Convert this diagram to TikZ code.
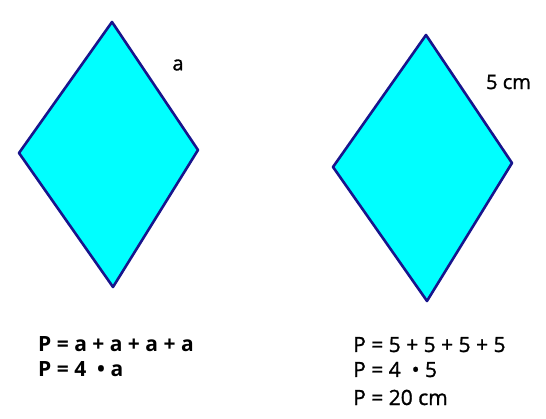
\documentclass[tikz,border=0pt]{standalone}
\usepackage{fontspec}
\setmainfont{Open Sans}
\newfontfamily\medfont{Open Sans}[FakeBold=1.2]
\definecolor{rhombfill}{RGB}{0,255,255}
\definecolor{rhombline}{RGB}{24,20,140}
\tikzset{
  rhomb/.style={fill=rhombfill,draw=rhombline,line width=2.6pt,line join=round},
  side/.style={inner sep=0pt,font=\fontsize{20}{24}\medfont},
  formula/.style={anchor=base west,inner sep=0pt,font=\fontsize{21}{25}\medfont}
}
\begin{document}
\begin{tikzpicture}[x=1pt,y=-1pt]
        \useasboundingbox (0,0) rectangle (546,419);
        % left rhombus
        \coordinate (lt) at (112,22);
        \coordinate (lr) at (198,150);
        \coordinate (lb) at (113,287);
        \coordinate (ll) at (19,153);
        \draw[rhomb] (lt) -- (lr) -- (lb) -- (ll) -- cycle;
        \node[side] (la) at (178,65) {a};
        % right rhombus
        \coordinate (rt) at (426,35);
        \coordinate (rr) at (512,163);
        \coordinate (rb) at (427,301);
        \coordinate (rl) at (333,167);
        \draw[rhomb] (rt) -- (rr) -- (rb) -- (rl) -- cycle;
        \node[side] (r5) at (508.5,82) {5 cm};
        % perimeters
        \node[formula,font=\fontsize{21}{25}\selectfont\bfseries] (lp1) at (38,352) {P = a + a + a + a};
        \node[formula,font=\fontsize{21}{25}\selectfont\bfseries] (lp2) at (38,377) {P = 4 \ • a};
        \node[formula] (rp1) at (353,352) {P = 5 + 5 + 5 + 5};
        \node[formula] (rp2) at (353,377) {P = 4 \ • 5};
        \node[formula] (rp3) at (353,405) {P = 20 cm};
\end{tikzpicture}
\end{document}
